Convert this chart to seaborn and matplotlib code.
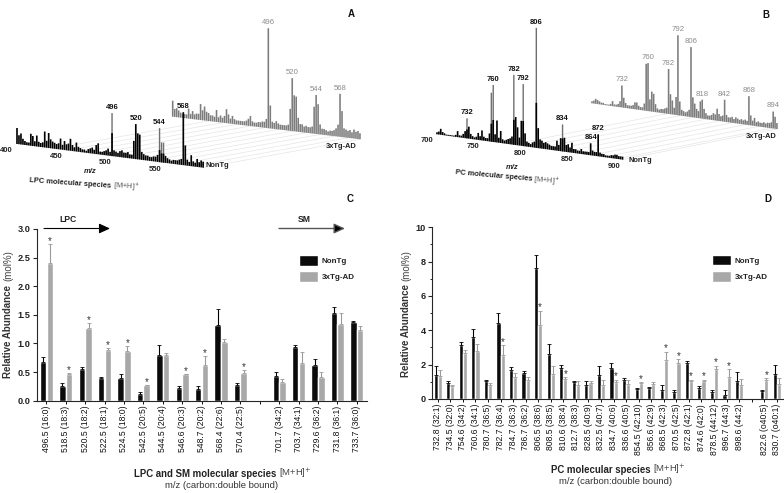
import numpy as np
import pandas as pd
import seaborn as sns
import matplotlib.pyplot as plt
from matplotlib.transforms import Affine2D

# ---- panel C: LPC and SM species
lpc_sm_labels = ["496.5 (16:0)", "518.5 (18:3)", "520.5 (18:2)", "522.5 (18:1)", "524.5 (18:0)",
                 "542.5 (20:5)", "544.5 (20:4)", "546.6 (20:3)", "548.7 (20:2)", "568.4 (22:6)",
                 "570.4 (22:5)", "", "701.7 (34:2)", "703.7 (34:1)", "729.6 (36:2)",
                 "731.8 (36:1)", "733.7 (36:0)"]
lpc_sm_nontg = [.68, .25, .56, .39, .40, .11, .79, .22, .20, 1.32, .27, None, .43, .94, .62, 1.53, 1.37]
lpc_sm_nontg_err = [.09, .06, .03, .02, .07, .04, .18, .03, .06, .28, .04, None, .07, .04, .10, .10, .02]
lpc_sm_ad = [2.41, .47, 1.27, .89, .87, .27, .79, .46, .63, 1.02, .48, None, .33, .66, .42, 1.34, 1.23]
lpc_sm_ad_err = [.33, .01, .09, .03, .08, .01, .05, .01, .15, .05, .05, None, .05, .19, .08, .19, .07]
lpc_sm_stars = ["496.5 (16:0)", "518.5 (18:3)", "520.5 (18:2)", "522.5 (18:1)", "524.5 (18:0)",
                "542.5 (20:5)", "546.6 (20:3)", "548.7 (20:2)", "570.4 (22:5)"]

# ---- panel D: PC species
pc_labels = ["732.8 (32:1)", "734.5 (32:0)", "754.6 (34:2)", "760.6 (34:1)", "780.7 (36:5)",
             "782.7 (36:4)", "784.7 (36:3)", "786.7 (36:2)", "806.5 (38:6)", "808.5 (38:5)",
             "810.6 (38:4)", "812.7 (38:3)", "828.5 (40:9)", "832.5 (40:7)", "834.7 (40:6)",
             "836.6 (40:5)", "854.5 (42:10)", "856.6 (42:9)", "868.5 (42:3)", "870.5 (42:5)",
             "872.8 (42:1)", "874.6 (42:0)", "878.5 (44:12)", "896.7 (44:3)", "898.6 (44:2)",
             "", "822.6 (o40:5)", "830.7 (o40:1)"]
pc_nontg = [1.4, .93, 3.13, 3.6, 1.02, 4.4, 1.68, 1.52, 7.63, 2.62, 1.8, .97, .82, 1.38, 1.82, 1.13,
            .58, .62, .55, .43, 2.12, .65, .42, .26, 1.03, None, .45, 1.45]
pc_nontg_err = [.55, .1, .18, .45, .08, .6, .17, .1, .78, .58, .17, .08, .2, .53, .27, .07,
                .08, .05, .25, .08, .07, .1, .1, .25, .53, None, .07, .53]
pc_ad = [1.35, .78, 2.68, 2.78, .82, 2.58, 1.3, 1.1, 4.33, 1.48, 1.17, .83, .92, .83, 1.0, .88,
         .92, .88, 2.3, 2.07, 1.03, 1.03, 1.75, 1.28, .83, None, 1.1, .88]
pc_ad_err = [.33, .06, .17, .42, .12, .55, .2, .2, .8, .45, .1, .22, .12, .28, .13, .2,
             .05, .1, .45, .25, .1, .1, .18, .45, .33, None, .1, .33]
pc_stars = ["782.7 (36:4)", "806.5 (38:6)", "810.6 (38:4)", "834.7 (40:6)", "854.5 (42:10)",
            "868.5 (42:3)", "870.5 (42:5)", "872.8 (42:1)", "874.6 (42:0)", "878.5 (44:12)",
            "896.7 (44:3)", "822.6 (o40:5)"]

# ---- panel A spectra, m/z 400 to 588 in steps of 2
lpc_mz = list(range(400, 590, 2))
lpc_front = [16, 9, 11, 6, 4, 3, 3, 12, 10, 5,
             11, 5, 4, 5, 16, 7, 15, 9, 7, 6,
             5, 6, 11, 5, 9, 6, 7, 12, 6, 4,
             9, 5, 4, 3, 3, 2, 4, 5, 6, 4,
             9, 11, 3, 3, 4, 5, 7, 4, 23, 6,
             5, 4, 6, 7, 5, 5, 6, 4, 4, 18,
             35, 26, 25, 8, 6, 5, 5, 4, 4, 5,
             5, 7, 12, 9, 9, 7, 5, 4, 3, 4,
             4, 4, 5, 6, 53, 20, 6, 4, 11, 5, 4, 8, 5, 7, 6]
lpc_front_tall_mz = [496, 544, 546, 548]
lpc_front_tall = [43, 34, 20, 20]
lpc_back = [16, 8, 9, 7, 5, 4, 4, 4, 10, 5,
            8, 5, 6, 6, 16, 10, 14, 9, 8, 6,
            6, 5, 12, 5, 7, 5, 7, 14, 9, 5,
            8, 5, 4, 4, 4, 4, 4, 5, 7, 10,
            5, 4, 4, 5, 5, 6, 6, 9, 100, 23,
            7, 6, 8, 6, 5, 5, 5, 5, 6, 22,
            53, 36, 35, 14, 8, 8, 6, 7, 6, 6,
            7, 27, 39, 30, 10, 6, 6, 5, 4, 5,
            5, 6, 8, 12, 43, 26, 9, 8, 7, 8, 6, 9, 7, 8, 6]
lpc_front_peaks = [496, 520, 544, 568]
lpc_front_peak_h = [43, 35, 34, 53]
lpc_back_peaks = [496, 520, 544, 568]
lpc_back_peak_h = [100, 53, 39, 43]

# ---- panel B spectra, m/z 700 to 898 in steps of 2
pc_mz = list(range(700, 900, 2))
pc_front = [2, 3, 6, 3, 2, 1, 1, 1, 1, 1,
            2, 6, 2, 2, 4, 7, 9, 12, 5, 3,
            2, 3, 7, 4, 10, 4, 3, 3, 8, 18,
            22, 8, 22, 5, 12, 4, 3, 4, 5, 6,
            8, 25, 28, 18, 8, 25, 25, 13, 5, 4,
            3, 5, 6, 45, 20, 9, 8, 6, 7, 6,
            5, 4, 4, 4, 10, 6, 13, 13, 14, 7,
            8, 5, 10, 4, 4, 3, 3, 5, 3, 3,
            3, 3, 12, 5, 4, 4, 22, 4, 3, 3,
            2, 2, 2, 3, 3, 4, 4, 3, 3, 3]
pc_front_tall_mz = [732, 758, 760, 782, 792, 806, 834]
pc_front_tall = [20, 49, 57, 70, 62, 120, 27]
pc_back = [2, 3, 5, 4, 3, 2, 2, 1, 1, 1,
           2, 5, 2, 2, 3, 6, 22, 10, 5, 3,
           3, 3, 4, 7, 7, 4, 3, 3, 7, 47,
           48, 12, 20, 18, 8, 4, 3, 4, 4, 5,
           6, 45, 20, 14, 7, 18, 80, 14, 6, 5,
           4, 5, 7, 70, 20, 14, 9, 7, 17, 19,
           10, 6, 4, 4, 5, 7, 6, 12, 7, 5,
           6, 22, 7, 5, 5, 6, 4, 6, 5, 4,
           5, 4, 5, 4, 29, 10, 5, 8, 4, 5,
           4, 4, 5, 4, 5, 5, 6, 17, 12, 6]
pc_front_peaks = [732, 760, 782, 792, 806, 834, 864, 872]
pc_front_peak_h = [20, 57, 70, 62, 120, 27, 12, 22]
pc_back_peaks = [732, 760, 782, 792, 806, 818, 842, 868, 894]
pc_back_peak_h = [22, 48, 45, 80, 70, 19, 22, 29, 17]

BLACK = "#0b0b0b"
GREY = "#a8a8a8"
SPEC_GREY = "#7d7d7d"
TEXT_GREY = "#8c8c8c"
W, H = 784, 493

sns.set_theme(style="ticks")
plt.rcParams["font.family"] = ["Liberation Sans", "DejaVu Sans"]
plt.rcParams["axes.linewidth"] = 0.8

fig = plt.figure(figsize=(W / 100, H / 100), dpi=100)

# whole-figure layer in pixel units for the waterfall panels and the loose text
top = fig.add_axes([0, 0, 1, 1], zorder=5)
top.set_xlim(0, W)
top.set_ylim(H, 0)
top.axis("off")
top.set_autoscale_on(False)
top.patch.set_alpha(0)


def spec_transform(x0, y0, sx, sy, mz0):
    # mz along a sheared baseline, intensity straight up
    return Affine2D.from_values(sx, sy, 0, -1, x0 - sx * mz0, y0 - sy * mz0) + top.transData


def draw_waterfall(front_geo, back_geo, mz, front, back, tall_mz, tall, front_peaks, front_h,
                   back_peaks, back_h, grid_mz, tick_mz):
    tf = spec_transform(*front_geo, mz[0])
    tb = spec_transform(*back_geo, mz[0])
    pts_f = tf.transform(np.column_stack([grid_mz, np.zeros(len(grid_mz))]))
    pts_b = tb.transform(np.column_stack([grid_mz, np.zeros(len(grid_mz))]))
    inv = top.transData.inverted()
    for a, b in zip(inv.transform(pts_f), inv.transform(pts_b)):
        top.plot([a[0], b[0]], [a[1], b[1]], color="#e6e6e6", lw=0.5, zorder=1)
    top.vlines(mz, 0, back, transform=tb, colors=SPEC_GREY, lw=1.15, zorder=2, snap=False)
    top.vlines(tall_mz, 0, tall, transform=tf, colors="#6f6f6f", lw=1.0, zorder=3, snap=False)
    top.vlines(mz, 0, front, transform=tf, colors="black", lw=1.2, zorder=4, snap=False)
    for m, h in zip(back_peaks, back_h):
        top.annotate(str(m), (m, h), xycoords=tb, xytext=(0, 1.5), textcoords="offset points",
                     ha="center", va="bottom", fontsize=5.6, color=TEXT_GREY, zorder=6)
    for m, h in zip(front_peaks, front_h):
        top.annotate(str(m), (m, h), xycoords=tf, xytext=(0, 1.5), textcoords="offset points",
                     ha="center", va="bottom", fontsize=5.5, color="#111111", fontweight="bold", zorder=6)
    for m in tick_mz:
        top.annotate(str(m), (m, 0), xycoords=tf, xytext=(-7.5, -4.5), textcoords="offset points",
                     ha="center", va="center", fontsize=5.5, fontweight="bold", color="#222222", zorder=6)


# panel A
draw_waterfall((17, 144, .99, .126), (172.7, 116.7, .996, .12), lpc_mz, lpc_front, lpc_back,
               lpc_front_tall_mz, lpc_front_tall, lpc_front_peaks, lpc_front_peak_h,
               lpc_back_peaks, lpc_back_peak_h, lpc_mz[18::7] + [lpc_mz[-1]], [400, 450, 500, 550])
# panel B
draw_waterfall((437, 134.3, .937, .128), (592, 103.3, .934, .13), pc_mz, pc_front, pc_back,
               pc_front_tall_mz, pc_front_tall, pc_front_peaks, pc_front_peak_h,
               pc_back_peaks, pc_back_peak_h, pc_mz[40::7] + [pc_mz[-1]], [700, 750, 800, 850, 900])


def bar_panel(box, labels, nontg, nontg_err, ad, ad_err, stars, ymax, yticks, xlim, width, gap,
              star_pad, legend_at, yfmt):
    left, right, ytop, ybot = box
    ax = fig.add_axes([left / W, (H - ybot) / H, (right - left) / W, (ybot - ytop) / H])
    rows = []
    for lab, a, ae, b, be in zip(labels, nontg, nontg_err, ad, ad_err):
        if a is None:
            continue
        rows.append({"species": lab, "group": "NonTg", "value": a, "err": ae})
        rows.append({"species": lab, "group": "3xTg-AD", "value": b, "err": be})
    df = pd.DataFrame(rows)

    sns.barplot(data=df, x="species", y="value", hue="group", order=labels,
                hue_order=["NonTg", "3xTg-AD"], palette=[BLACK, GREY], saturation=1,
                width=width, gap=gap, errorbar=None, ax=ax)

    for cont, grp, col in zip(ax.containers, ["NonTg", "3xTg-AD"], ["black", "#9a9a9a"]):
        sub = df[df["group"] == grp]
        xs = [p.get_x() + p.get_width() / 2 for p in cont]
        ax.errorbar(xs, sub["value"], yerr=[np.zeros(len(sub)), sub["err"]], fmt="none",
                    ecolor=col, elinewidth=0.8, capsize=1.1, capthick=0.6, zorder=3)
        if grp == "3xTg-AD":
            for x, lab, v, e in zip(xs, sub["species"], sub["value"], sub["err"]):
                if lab in stars:
                    ax.text(x, v + e + star_pad, "*", ha="center", va="center", fontsize=7, color="#333333")

    ax.set_xlim(*xlim)
    ax.set_ylim(0, ymax)
    ax.set_yticks(yticks)
    ax.set_yticklabels([yfmt.format(t) for t in yticks], fontweight="bold", fontsize=6.6, color="#222222")
    ax.set_xlabel("")
    ax.set_ylabel("")
    ax.tick_params(axis="x", labelrotation=90, labelsize=6.2, length=2, width=0.7, pad=1.5, colors="#111111")
    ax.tick_params(axis="y", length=3, width=0.8, pad=1.5)
    ax.patch.set_alpha(0)
    sns.despine(ax=ax)
    sns.move_legend(ax, "upper left", bbox_to_anchor=legend_at, title=None, frameon=False,
                    fontsize=5.8, handlelength=2.4, handleheight=1.65, labelspacing=0.72,
                    handletextpad=0.45, borderpad=0, borderaxespad=0)
    for t in ax.get_legend().get_texts():
        t.set_fontweight("bold")
        t.set_color("#222222")
    return ax


ax_c = bar_panel((37, 367, 229, 400.7), lpc_sm_labels, lpc_sm_nontg, lpc_sm_nontg_err, lpc_sm_ad,
                 lpc_sm_ad_err, lpc_sm_stars, 3.0, [0, .5, 1, 1.5, 2, 2.5, 3], (-.485, 16.53),
                 .69, .03, .05, (.794, .849), "{:.1f}")
ax_d = bar_panel((432, 784, 227.3, 399), pc_labels, pc_nontg, pc_nontg_err, pc_ad, pc_ad_err,
                 pc_stars, 10, [0, 2, 4, 6, 8, 10], (-.454, 27.57),
                 .66, 0, .2, (.795, .84), "{:d}")
ax_d.set_yticks([1, 3, 5, 7, 9], minor=True)
ax_d.tick_params(axis="y", which="minor", length=1.8, width=0.7)

# arrows above panel C
top.annotate("", xy=(110, 228.5), xytext=(44, 228.5),
             arrowprops=dict(arrowstyle="-|>,head_length=0.55,head_width=0.25", color="black", lw=0.8,
                             shrinkA=0, shrinkB=0))
top.annotate("", xy=(345, 228.5), xytext=(279, 228.5),
             arrowprops=dict(arrowstyle="-|>,head_length=0.55,head_width=0.25", color="#555555", lw=1.0,
                             fc="black", shrinkA=0, shrinkB=0))
top.text(68, 220, "LPC", ha="center", va="center", fontsize=6.2, fontweight="bold", color="#222222")
top.text(304, 219.5, "SM", ha="center", va="center", fontsize=6.2, fontweight="bold", color="#222222")

# panel letters
for txt, x, y in [("A", 351.5, 14), ("B", 766, 15), ("C", 350.5, 199), ("D", 767.5, 199)]:
    top.text(x, y, txt, ha="center", va="center", fontsize=7, fontweight="bold", color="#111111")

# y axis titles, bold part and plain part
top.text(8.5, 378, "Relative Abundance", rotation=90, ha="center", va="bottom", fontsize=7,
         fontweight="bold", color="#333333")
top.text(8.5, 281, "(mol%)", rotation=90, ha="center", va="bottom", fontsize=7, color="#444444")
top.text(406, 377, "Relative Abundance", rotation=90, ha="center", va="bottom", fontsize=7,
         fontweight="bold", color="#333333")
top.text(406, 281, "(mol%)", rotation=90, ha="center", va="bottom", fontsize=7, color="#444444")

# x axis titles
top.text(279, 474, "LPC and SM molecular species ", ha="right", va="center", fontsize=6.9,
         fontweight="bold", color="#222222")
top.text(279, 473.5, "[M+H]$^{+}$", ha="left", va="center", fontsize=6.8, color="#444444")
top.text(222, 485, "m/z (carbon:double bound)", ha="center", va="center", fontsize=6.8, color="#333333")
top.text(653, 470, "PC molecular species ", ha="right", va="center", fontsize=6.9,
         fontweight="bold", color="#222222")
top.text(653, 469.5, "[M+H]$^{+}$", ha="left", va="center", fontsize=6.8, color="#444444")
top.text(616, 481, "m/z (carbon:double bound)", ha="center", va="center", fontsize=6.8, color="#333333")

# waterfall labels
top.text(206, 165.5, "NonTg", ha="left", va="center", fontsize=5.4, fontweight="bold", color="#222222")
top.text(326, 146, "3xTg-AD", ha="left", va="center", fontsize=5.4, fontweight="bold", color="#222222")
top.text(629, 160.5, "NonTg", ha="left", va="center", fontsize=5.4, fontweight="bold", color="#222222")
top.text(746, 136.5, "3xTg-AD", ha="left", va="center", fontsize=5.4, fontweight="bold", color="#222222")
top.text(90.5, 171.5, "m/z", ha="center", va="center", fontsize=5.5, fontweight="bold", style="italic", color="#222222")
top.text(512, 167.5, "m/z", ha="center", va="center", fontsize=5.5, fontweight="bold", style="italic", color="#222222")
top.text(70, 183, "LPC molecular species", rotation=-4, ha="center", va="center", fontsize=5.4,
         fontweight="bold", color="#222222")
top.text(126, 186.5, "[M+H]$^{+}$", rotation=-4, ha="center", va="center", fontsize=5.4, color="#555555")
top.text(494, 176, "PC molecular species", rotation=-5, ha="center", va="center", fontsize=5.4,
         fontweight="bold", color="#222222")
top.text(547, 181.5, "[M+H]$^{+}$", rotation=-5, ha="center", va="center", fontsize=5.4, color="#555555")

fig.savefig("out.png", dpi=100)
